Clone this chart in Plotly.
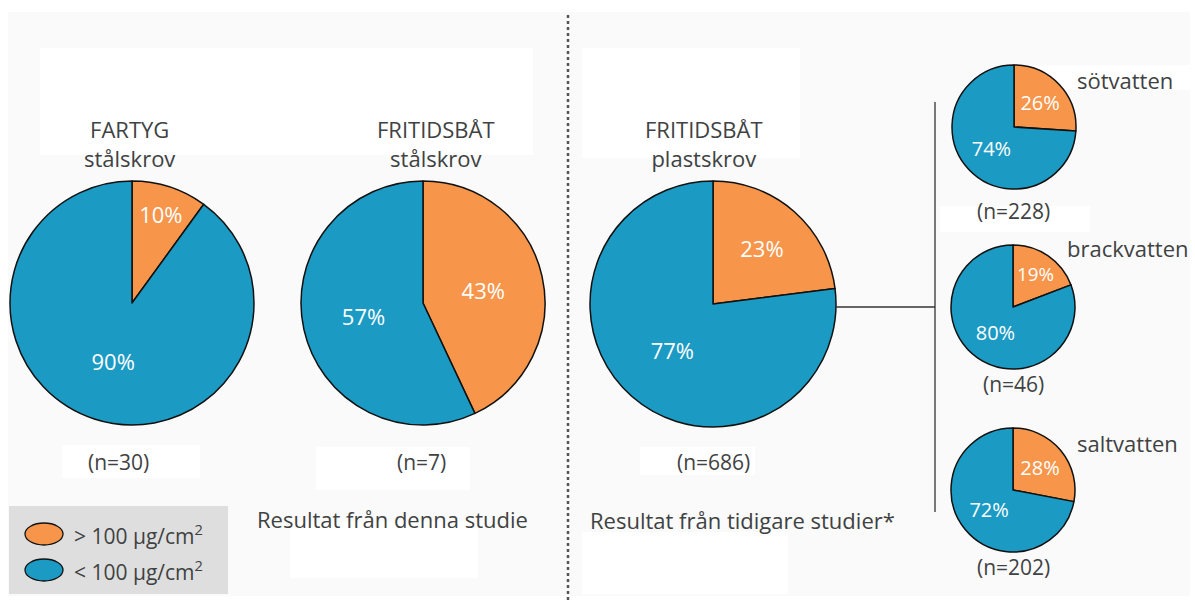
import plotly.graph_objects as go

W, H = 1195, 603

# ---------------- data ----------------
categories = ["> 100 µg/cm²", "< 100 µg/cm²"]
pie_titles = ["FARTYG<br>stålskrov", "FRITIDSBÅT<br>stålskrov", "FRITIDSBÅT<br>plastskrov",
              "sötvatten", "brackvatten", "saltvatten"]
above_100 = [10, 43, 23, 26, 19, 28]
below_100 = [90, 57, 77, 74, 80, 72]
sample_n = [30, 7, 686, 228, 46, 202]

ORANGE = "#F7954A"
BLUE = "#1B9AC4"
TXT = "#3f4242"
FONT = "Open Sans"

# pie geometry in pixels (cx, cy, r)
geom = [(132, 303, 122), (423, 303, 122), (713, 304, 123),
        (1014, 127, 62), (1013, 307, 62), (1013, 490, 62)]
label_size = [22, 22, 22, 20, 20, 20]


def px(x):
    return x / W


def py(y):
    return 1 - y / H


fig = go.Figure()
for i, (cx, cy, r) in enumerate(geom):
    vals = [above_100[i], below_100[i]]
    fig.add_trace(go.Pie(
        values=vals,
        labels=categories,
        text=[f"{v}%" for v in vals],
        texttemplate="%{text}",
        textinfo="text",
        textposition="inside",
        insidetextorientation="horizontal",
        insidetextfont=dict(color="white", size=label_size[i], family=FONT),
        sort=False,
        direction="clockwise",
        rotation=0,
        marker=dict(colors=[ORANGE, BLUE], line=dict(color="#111", width=1.5)),
        domain=dict(x=[px(cx - r), px(cx + r)], y=[py(cy + r), py(cy - r)]),
        showlegend=False,
        hoverinfo="label+text",
        name=pie_titles[i].replace("<br>", " "),
    ))

shapes = []
# background panel and white boxes
shapes.append(dict(type="rect", xref="paper", yref="paper", x0=px(8), x1=px(1190),
                   y0=py(596), y1=py(12), fillcolor="#fafafa", line=dict(width=0), layer="below"))
for (x0, y0, x1, y1) in [(40, 48, 533, 155), (582, 48, 800, 158), (62, 445, 200, 478),
                         (316, 447, 470, 490), (640, 447, 755, 475), (290, 522, 478, 578),
                         (582, 532, 788, 594), (940, 206, 1090, 232), (1030, 65, 1190, 90)]:
    shapes.append(dict(type="rect", xref="paper", yref="paper", x0=px(x0), x1=px(x1),
                       y0=py(y1), y1=py(y0), fillcolor="#ffffff", line=dict(width=0), layer="below"))
# dotted divider
shapes.append(dict(type="line", xref="paper", yref="paper", x0=px(568), x1=px(568),
                   y0=py(600), y1=py(13), line=dict(color="#555", width=2.5, dash="dot")))
# connector lines
shapes.append(dict(type="line", xref="paper", yref="paper", x0=px(836), x1=px(935),
                   y0=py(307), y1=py(307), line=dict(color="#333", width=1.3)))
shapes.append(dict(type="line", xref="paper", yref="paper", x0=px(935), x1=px(935),
                   y0=py(512), y1=py(102), line=dict(color="#333", width=1.3)))
# legend box
shapes.append(dict(type="rect", xref="paper", yref="paper", x0=px(9), x1=px(228),
                   y0=py(594), y1=py(506), fillcolor="#dedede", line=dict(width=0), layer="below"))
for j, (col, yc) in enumerate([(ORANGE, 534), (BLUE, 570)]):
    shapes.append(dict(type="circle", xref="paper", yref="paper", x0=px(25), x1=px(63),
                       y0=py(yc + 11), y1=py(yc - 11), fillcolor=col,
                       line=dict(color="#111", width=1.3)))

ann = []


def add_text(x, y, text, size=19, anchor="center"):
    ann.append(dict(x=px(x), y=py(y), xref="paper", yref="paper", text=text,
                    showarrow=False, xanchor=anchor, yanchor="middle",
                    font=dict(family=FONT, size=size, color=TXT)))


# titles (two lines each)
add_text(129, 143, pie_titles[0], 22)
add_text(436, 143, pie_titles[1], 22)
add_text(704, 143, pie_titles[2], 22)
add_text(1125, 80, pie_titles[3], 22)
add_text(1128, 248, pie_titles[4], 22)
add_text(1127, 443, pie_titles[5], 22)
# sample sizes
for (x, y), n in zip([(118, 462), (421, 462), (713, 462), (1013, 211), (1013, 384), (1013, 567)],
                     sample_n):
    add_text(x, y, f"(n={n})", 21)
add_text(392, 519, "Resultat från denna studie", 22)
add_text(742, 520, "Resultat från tidigare studier*", 22)
# legend labels
add_text(72, 534, "> 100 µg/cm<sup>2</sup>", 21, "left")
add_text(72, 570, "< 100 µg/cm<sup>2</sup>", 21, "left")

fig.update_layout(
    width=W, height=H,
    margin=dict(l=0, r=0, t=0, b=0),
    paper_bgcolor="#ffffff",
    plot_bgcolor="#ffffff",
    shapes=shapes,
    annotations=ann,
    showlegend=False,
    font=dict(family=FONT),
)

fig.write_html("out.html", config={"displayModeBar": False},
               post_script="document.body.style.margin='0';")
